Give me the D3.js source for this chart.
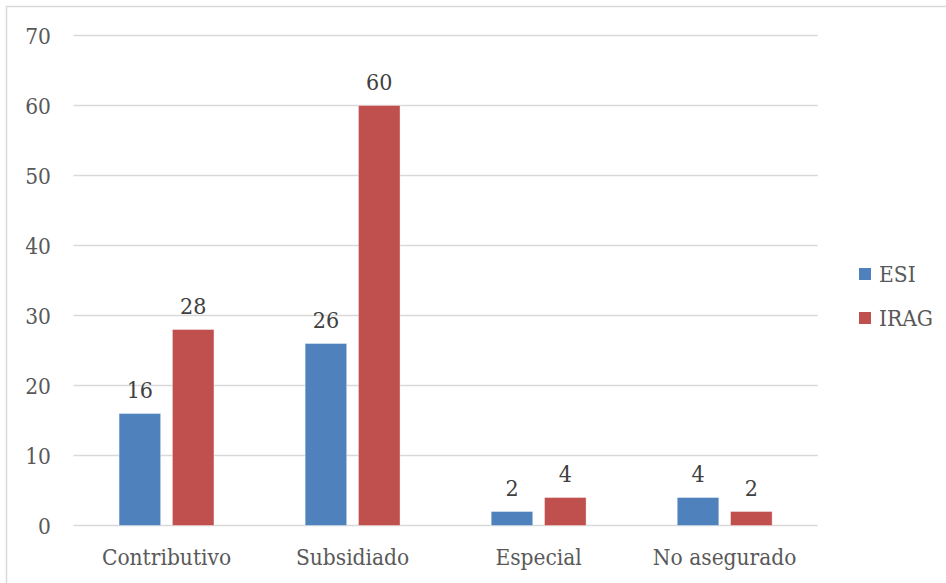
<!DOCTYPE html>
<html>
<head>
<meta charset="utf-8">
<script src="https://cdn.jsdelivr.net/npm/d3@7"></script>
<style>
  html, body { margin: 0; padding: 0; background: #ffffff; }
  svg text { font-family: "DejaVu Serif Condensed", "DejaVu Serif", serif; font-stretch: condensed; }
</style>
</head>
<body>
<svg id="chart" width="946" height="583"></svg>
<script>
const categories = ["Contributivo", "Subsidiado", "Especial", "No asegurado"];
const seriesNames = ["ESI", "IRAG"];
const esiValues = [16, 26, 2, 4];
const iragValues = [28, 60, 4, 2];
const yTicks = [0, 10, 20, 30, 40, 50, 60, 70];

const colors = { ESI: "#4F81BD", IRAG: "#C0504D" };
const values = { ESI: esiValues, IRAG: iragValues };

const svg = d3.select("#chart");

// Marco del gráfico
svg.append("rect")
  .attr("x", 6.5).attr("y", 6.5)
  .attr("width", 960).attr("height", 600)
  .attr("fill", "none")
  .attr("stroke", "#d9d9d9")
  .attr("stroke-width", 1.5);

const x0 = d3.scaleBand().domain(categories).range([73.5, 817.7]).padding(0);
const x1 = d3.scaleBand().domain(seriesNames).range([0, x0.bandwidth()])
  .paddingInner(0.22).paddingOuter(0.855);
const y = d3.scaleLinear().domain([0, 70]).range([525.5, 35.5]);

// Líneas de cuadrícula
svg.append("g")
  .selectAll("line")
  .data(yTicks)
  .enter()
  .append("line")
  .attr("x1", x0.range()[0])
  .attr("x2", x0.range()[1])
  .attr("y1", d => y(d))
  .attr("y2", d => y(d))
  .attr("stroke", "#d9d9d9")
  .attr("stroke-width", 1.5);

// Etiquetas del eje Y
svg.append("g")
  .selectAll("text")
  .data(yTicks)
  .enter()
  .append("text")
  .attr("x", 51)
  .attr("y", d => y(d))
  .attr("dy", "0.36em")
  .attr("text-anchor", "end")
  .attr("fill", "#595959")
  .style("font-size", "22.5px")
  .text(d => d);

// Barras
const groups = svg.append("g")
  .selectAll("g")
  .data(categories)
  .enter()
  .append("g")
  .attr("transform", d => `translate(${x0(d)},0)`);

groups.each(function (cat, i) {
  const g = d3.select(this);
  seriesNames.forEach(s => {
    const v = values[s][i];
    g.append("rect")
      .attr("x", x1(s))
      .attr("y", y(v))
      .attr("width", x1.bandwidth())
      .attr("height", y(0) - y(v))
      .attr("fill", colors[s])
      .attr("stroke", "#ffffff")
      .attr("stroke-opacity", 0.5)
      .attr("stroke-width", 0.75);

    g.append("text")
      .attr("x", x1(s) + x1.bandwidth() / 2)
      .attr("y", y(v) - 16)
      .attr("text-anchor", "middle")
      .attr("fill", "#404040")
      .style("font-size", "23px")
      .text(v);
  });
});

// Etiquetas de categoría
svg.append("g")
  .selectAll("text")
  .data(categories)
  .enter()
  .append("text")
  .attr("x", d => x0(d) + x0.bandwidth() / 2)
  .attr("y", 565)
  .attr("text-anchor", "middle")
  .attr("fill", "#595959")
  .style("font-size", "22.5px")
  .text(d => d);

// Leyenda
const legend = svg.append("g")
  .selectAll("g")
  .data(seriesNames)
  .enter()
  .append("g")
  .attr("transform", (d, i) => `translate(859,${268 + i * 44})`);

legend.append("rect")
  .attr("width", 12)
  .attr("height", 12)
  .attr("fill", d => colors[d]);

legend.append("text")
  .attr("x", 20)
  .attr("y", 6)
  .attr("dy", "0.36em")
  .attr("fill", "#595959")
  .style("font-size", "22.5px")
  .text(d => d);
</script>
</body>
</html>
